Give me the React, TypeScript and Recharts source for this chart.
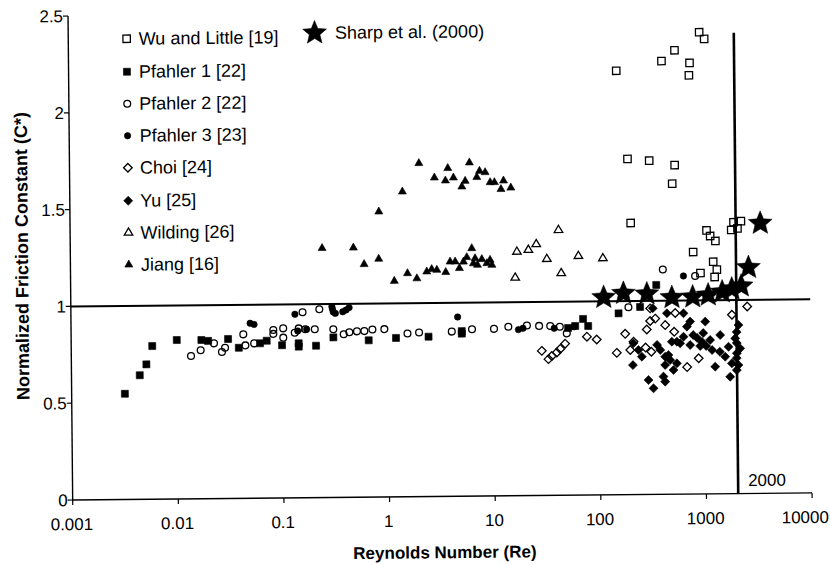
import { ScatterChart, Scatter, XAxis, YAxis, ReferenceLine, Legend } from 'recharts'

const FONT = '"Liberation Sans", Arial, Helvetica, sans-serif'

const xTicks = [0.001, 0.01, 0.1, 1, 10, 100, 1000, 10000]
const yTicks = [0, 0.5, 1, 1.5, 2, 2.5]

// [Reynolds number, normalized friction constant]
const wuLittle: [number, number][] = [
  [940, 2.385], [1047, 2.35], [547, 2.293], [411, 2.238], [757, 2.227], [745, 2.163], [153, 2.19],
  [192, 1.734], [308, 1.724], [536, 1.7], [506, 1.604], [203, 1.403], [1059, 1.361], [1145, 1.332],
  [1282, 1.306], [788, 1.25], [1815, 1.362], [1910, 1.402], [2244, 1.407], [2080, 1.37],
  [1217, 1.199], [1316, 1.158], [920, 1.141], [1252, 1.12],
]

const pfahler1: [number, number][] = [
  [0.00319, 0.546], [0.00443, 0.641], [0.00513, 0.697], [0.00585, 0.791], [0.01, 0.821],
  [0.0171, 0.82], [0.0198, 0.815], [0.0306, 0.824], [0.0386, 0.778], [0.0614, 0.8], [0.071, 0.813],
  [0.0991, 0.789], [0.1426, 0.798], [0.1426, 0.781], [0.208, 0.785], [0.304, 0.827], [0.656, 0.81],
  [1.19, 0.821], [2.42, 0.826], [5.0, 0.853], [5.0, 0.84], [70.5, 0.91], [59.3, 0.874], [78.7, 0.873],
  [50.8, 0.864], [153, 0.937], [245, 0.969], [350, 1.082],
]

const pfahler2: [number, number][] = [
  [0.0136, 0.738], [0.0168, 0.767], [0.0225, 0.802], [0.0267, 0.757], [0.0286, 0.779], [0.0427, 0.847],
  [0.0446, 0.79], [0.054, 0.8], [0.0822, 0.868], [0.0822, 0.848], [0.102, 0.876], [0.102, 0.828],
  [0.131, 0.853], [0.143, 0.875], [0.156, 0.958], [0.165, 0.87], [0.203, 0.87], [0.225, 0.973],
  [0.304, 0.869], [0.381, 0.843], [0.431, 0.853], [0.509, 0.857], [0.598, 0.858], [0.713, 0.866],
  [0.925, 0.867], [1.53, 0.843], [1.97, 0.848], [4.02, 0.851], [6.25, 0.862], [10.1, 0.863],
  [13.8, 0.873], [20.7, 0.879], [27.0, 0.876], [34.4, 0.875], [42.4, 0.871], [49.3, 0.836],
  [190, 0.968], [405, 1.161], [818, 1.126],
]

const pfahler3: [number, number][] = [
  [0.0496, 0.904], [0.0541, 0.898], [0.132, 0.948], [0.14, 0.862], [0.17, 0.87], [0.296, 0.986],
  [0.3, 0.972], [0.305, 0.958], [0.319, 0.951], [0.375, 0.959], [0.403, 0.968], [0.431, 0.98],
  [4.58, 0.926], [17.2, 0.858], [19.0, 0.865], [37.5, 0.863], [58, 0.87], [634, 1.127],
]

const choi: [number, number][] = [
  [28.5, 0.747], [32.9, 0.704], [35.4, 0.72], [39.5, 0.738], [42.6, 0.756], [47.4, 0.783],
  [76.4, 0.818], [94.5, 0.803], [146, 0.733], [176, 0.831], [196, 0.747], [211, 0.79], [274, 0.759],
  [310, 0.737], [282, 0.852], [304, 0.896], [340, 0.908], [305, 0.961], [422, 0.874], [512, 0.839],
  [526, 0.936], [675, 0.656], [869, 0.701], [1810, 0.924], [2530, 0.966],
]

const yu: [number, number][] = [
  [323, 0.962], [439, 0.935], [630, 0.934], [727, 0.891], [1010, 0.89], [486, 0.788], [582, 0.779],
  [677, 0.865], [627, 0.813], [210, 0.782], [234, 0.747], [252, 0.712], [207, 0.669], [377, 0.746],
  [419, 0.711], [467, 0.693], [540, 0.676], [501, 0.642], [418, 0.668], [402, 0.608], [290, 0.591],
  [323, 0.548], [417, 0.582], [542, 0.788], [845, 0.806], [940, 0.785], [1026, 0.764], [901, 0.764],
  [1120, 0.795], [775, 0.821], [1396, 0.82], [1550, 0.708], [1245, 0.657], [1722, 0.604],
  [1670, 0.759], [1936, 0.802], [2084, 0.871], [2066, 0.664], [1791, 0.673], [2153, 0.75],
  [2000, 0.725], [2000, 0.835], [2000, 0.778], [1990, 0.7], [1990, 0.638], [1167, 0.743],
  [450, 0.719], [352, 0.772], [1380, 0.734], [964, 0.831], [724, 0.77],
]

const wilding: [number, number][] = [
  [42.0, 1.37], [16.9, 1.26], [21.7, 1.269], [25.8, 1.298], [32.4, 1.221], [64.5, 1.235],
  [110, 1.222], [16.2, 1.126], [44.2, 1.147],
]

const jiang: [number, number][] = [
  [2.03, 1.722], [3.81, 1.695], [6.11, 1.723], [2.84, 1.647], [3.61, 1.631], [4.3, 1.646],
  [5.55, 1.628], [5.16, 1.599], [7.6, 1.679], [8.59, 1.672], [7.16, 1.647], [9.57, 1.62],
  [10.5, 1.62], [12.8, 1.628], [12.1, 1.584], [15.0, 1.591], [1.41, 1.576], [0.84, 1.474],
  [0.242, 1.288], [0.479, 1.289], [0.603, 1.203], [0.83, 1.23], [1.16, 1.115], [1.55, 1.154],
  [1.9, 1.127], [2.36, 1.162], [2.63, 1.174], [2.94, 1.17], [3.57, 1.158], [3.93, 1.212],
  [4.39, 1.212], [4.81, 1.178], [5.26, 1.211], [5.66, 1.234], [6.32, 1.28], [6.78, 1.228],
  [7.85, 1.223], [7.13, 1.194], [8.75, 1.202], [9.77, 1.193], [9.4, 1.219], [6.53, 1.202],
]

const sharp: [number, number][] = [
  [111, 1.02], [171, 1.04], [285, 1.036], [491, 1.016], [773, 1.018], [1084, 1.027],
  [1472, 1.042], [1816, 1.057], [2230, 1.072], [2624, 1.167], [3420, 1.395],
]

type Kind = 'square' | 'circle' | 'diamond' | 'triangle' | 'star'

interface SeriesDef {
  name: string
  data: [number, number][]
  kind: Kind
  open: boolean
}

const series: SeriesDef[] = [
  { name: 'Wu and Little [19]', data: wuLittle, kind: 'square', open: true },
  { name: 'Pfahler 1 [22]', data: pfahler1, kind: 'square', open: false },
  { name: 'Pfahler 2 [22]', data: pfahler2, kind: 'circle', open: true },
  { name: 'Pfahler 3 [23]', data: pfahler3, kind: 'circle', open: false },
  { name: 'Choi [24]', data: choi, kind: 'diamond', open: true },
  { name: 'Yu [25]', data: yu, kind: 'diamond', open: false },
  { name: 'Wilding [26]', data: wilding, kind: 'triangle', open: true },
  { name: 'Jiang [16]', data: jiang, kind: 'triangle', open: false },
  { name: 'Sharp et al. (2000)', data: sharp, kind: 'star', open: false },
]

function starPath(cx: number, cy: number, R: number, r: number) {
  let d = ''
  for (let i = 0; i < 10; i++) {
    const a = -Math.PI / 2 + (i * Math.PI) / 5
    const rad = i % 2 === 0 ? R : r
    d += (i === 0 ? 'M' : 'L') + (cx + rad * Math.cos(a)).toFixed(2) + ',' + (cy + rad * Math.sin(a)).toFixed(2)
  }
  return d + 'Z'
}

function Marker({ kind, open, cx, cy }: { kind: Kind; open: boolean; cx: number; cy: number }) {
  const fill = open ? 'none' : '#000'
  const sw = open ? 1.3 : 0.6
  if (kind === 'square') {
    const s = open ? 7.4 : 7
    return <rect x={cx - s / 2} y={cy - s / 2} width={s} height={s} fill={fill} stroke="#000" strokeWidth={sw} />
  }
  if (kind === 'circle') {
    const r = open ? 3.4 : 3.2
    return <circle cx={cx} cy={cy} r={r} fill={fill} stroke="#000" strokeWidth={sw} />
  }
  if (kind === 'diamond') {
    const h = open ? 4.3 : 4.5
    return (
      <polygon
        points={`${cx},${cy - h} ${cx + h},${cy} ${cx},${cy + h} ${cx - h},${cy}`}
        fill={fill}
        stroke="#000"
        strokeWidth={sw}
      />
    )
  }
  if (kind === 'triangle') {
    const w = open ? 8.5 : 8
    const h = open ? 7.2 : 7
    return (
      <polygon
        points={`${cx},${cy - (h * 2) / 3} ${cx + w / 2},${cy + h / 3} ${cx - w / 2},${cy + h / 3}`}
        fill={fill}
        stroke="#000"
        strokeWidth={sw}
        strokeLinejoin="miter"
      />
    )
  }
  return <path d={starPath(cx, cy, 12.5, 5.6)} fill="#000" stroke="#000" strokeWidth={0.5} />
}

const legendRows = series.filter((s) => s.kind !== 'star')
const sharpDef = series[series.length - 1]

function renderLegend() {
  return (
    <div style={{ position: 'relative', width: 830, height: 290, fontFamily: FONT, fontSize: 18, color: '#000' }}>
      {legendRows.map((s, i) => (
        <div
          key={s.name}
          style={{
            position: 'absolute',
            left: 120.5,
            top: 36.2 + i * 32.3 - 11,
            height: 22,
            lineHeight: '22px',
            display: 'flex',
            alignItems: 'center',
            whiteSpace: 'nowrap',
          }}
        >
          <svg width={16} height={16} style={{ display: 'block' }}>
            <Marker kind={s.kind} open={s.open} cx={8} cy={8} />
          </svg>
          <span style={{ marginLeft: 4.5 }}>{s.name}</span>
        </div>
      ))}
      <div
        style={{
          position: 'absolute',
          left: 303.4,
          top: 32.2 - 14,
          height: 28,
          lineHeight: '28px',
          display: 'flex',
          alignItems: 'center',
          whiteSpace: 'nowrap',
        }}
      >
        <svg width={28} height={28} style={{ display: 'block' }}>
          <Marker kind="star" open={false} cx={14} cy={14} />
        </svg>
        <span style={{ marginLeft: 6 }}>{sharpDef.name}</span>
      </div>
    </div>
  )
}

const tickStyle = { fill: '#000', fontSize: 17, fontFamily: FONT }

function XTick(p: any) {
  const v = p.payload?.value
  // last label sits a bit left of its tick so it stays inside the frame
  const shift = v === 10000 ? -7 : -1
  return (
    <text x={p.x + shift} y={p.y} dy="0.71em" textAnchor="middle" fill="#000" fontSize={17} fontFamily={FONT}>
      {String(v)}
    </text>
  )
}

export default function App() {
  return (
    <div
      style={{
        position: 'absolute',
        left: 0,
        top: 0,
        width: 830,
        height: 565,
        background: '#fff',
        transform: 'rotate(-0.55deg)',
        transformOrigin: '415px 282px',
      }}
    >
      <ScatterChart width={830} height={565} margin={{ top: 12.7, right: 20, bottom: 0, left: 0 }}>
        <XAxis
          type="number"
          dataKey="x"
          scale="log"
          domain={[0.001, 10000]}
          ticks={xTicks}
          interval={0}
          allowDataOverflow
          height={68.3}
          tickSize={5}
          tickMargin={13}
          tick={XTick}
          axisLine={{ stroke: '#000', strokeWidth: 1.4 }}
          tickLine={{ stroke: '#000', strokeWidth: 1.2 }}
          label={(p: any) => {
            const vb = p.viewBox
            if (!vb) return null
            return (
              <text
                x={vb.x + vb.width / 2 + 2}
                y={vb.y + vb.height - 6.5}
                textAnchor="middle"
                fontFamily={FONT}
                fontSize={17}
                fontWeight="bold"
                fill="#000"
              >
                Reynolds Number (Re)
              </text>
            )
          }}
        />
        <YAxis
          type="number"
          dataKey="y"
          domain={[0, 2.5]}
          ticks={yTicks}
          interval={0}
          allowDataOverflow
          width={70.6}
          tickSize={5}
          tickMargin={0}
          tick={tickStyle}
          axisLine={{ stroke: '#000', strokeWidth: 1.4 }}
          tickLine={{ stroke: '#000', strokeWidth: 1.2 }}
          label={(p: any) => {
            const vb = p.viewBox
            if (!vb) return null
            const cx = 22.3
            const cy = vb.y + vb.height / 2 - 2.5
            return (
              <text
                x={cx}
                y={cy}
                transform={`rotate(-90 ${cx} ${cy})`}
                textAnchor="middle"
                dominantBaseline="central"
                fontFamily={FONT}
                fontSize={18}
                fontWeight="bold"
                fill="#000"
              >
                Normalized Friction Constant (C*)
              </text>
            )
          }}
        />
        <Legend content={renderLegend} layout="vertical" align="center" verticalAlign="middle" wrapperStyle={{ left: 0, top: 0, width: 830, height: 290 }} />
        <ReferenceLine y={1} stroke="#000" strokeWidth={2} ifOverflow="extendDomain" />
        <ReferenceLine
          segment={[{ x: 2000, y: 0 }, { x: 2000, y: 2.38 }]}
          stroke="#000"
          strokeWidth={2.6}
          label={(p: any) => {
            const vb = p.viewBox
            if (!vb) return null
            return (
              <text x={vb.x + 10} y={vb.y + vb.height - 7.5} fontFamily={FONT} fontSize={17} fill="#000">
                2000
              </text>
            )
          }}
        />
        {series.map((s) => (
          <Scatter
            key={s.name}
            name={s.name}
            data={s.data.map(([x, y]) => ({ x, y }))}
            isAnimationActive={false}
            shape={(p: any) => <Marker kind={s.kind} open={s.open} cx={p.cx} cy={p.cy} />}
          />
        ))}
      </ScatterChart>
    </div>
  )
}
